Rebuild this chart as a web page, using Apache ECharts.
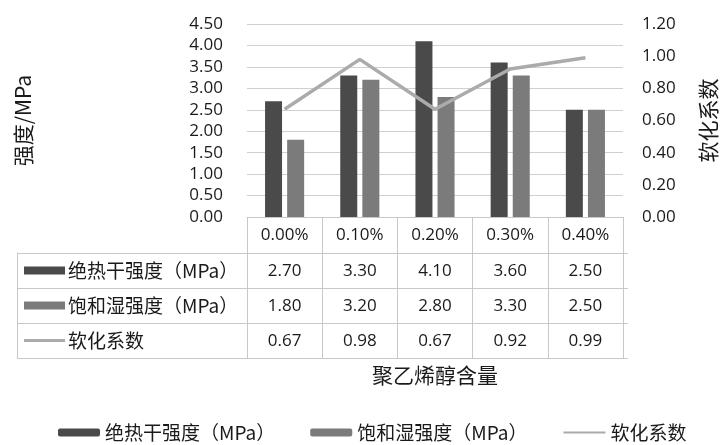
<!DOCTYPE html>
<html>
<head>
<meta charset="utf-8">
<script src="https://cdn.jsdelivr.net/npm/echarts@6/dist/echarts.min.js"></script>
<style>
  html, body { margin: 0; padding: 0; background: #fff; }
  #chart { width: 727px; height: 445px; }
</style>
</head>
<body>
<div id="chart"></div>
<script>
// PVA content levels and measured results
const categories = ['0.00%', '0.10%', '0.20%', '0.30%', '0.40%'];
const dryStrength = [2.70, 3.30, 4.10, 3.60, 2.50];
const wetStrength = [1.80, 3.20, 2.80, 3.30, 2.50];
const softening = [0.67, 0.98, 0.67, 0.92, 0.99];
const seriesNames = ['绝热干强度（MPa）', '饱和湿强度（MPa）', '软化系数'];
const tableRows = [dryStrength, wetStrength, softening];

const COLORS = ['#4a4a4a', '#7b7b7b', '#ababab'];
const LINE_GRAY = '#c8c8c8';
const TEXT = '#1a1a1a';
const FONT = '"Open Sans", "Noto Sans CJK SC", sans-serif';
const CJK = '"Noto Sans CJK SC", "Open Sans", sans-serif';

const chart = echarts.init(document.getElementById('chart'), null, { renderer: 'canvas' });

// one extra x axis per data-table row, sharing the chart's category scale
const rowOffsets = [36, 71, 106];
const rowAxes = tableRows.map((row, r) => ({
  type: 'category',
  gridIndex: 0,
  position: 'bottom',
  offset: rowOffsets[r],
  data: categories,
  axisLine: { show: false },
  axisTick: { show: false },
  axisLabel: {
    interval: 0,
    margin: 10,
    color: TEXT,
    fontFamily: FONT,
    fontSize: 17,
    formatter: (v, i) => row[i].toFixed(2)
  }
}));

const option = {
  backgroundColor: '#ffffff',
  animation: false,
  textStyle: { fontFamily: FONT },
  grid: [
    { left: 247, right: 99, top: 24, bottom: 228 },
    // data table body: series-name column plus value cells
    { left: 17, right: 99, top: 253, height: 105 }
  ],
  legend: {
    data: [
      { name: seriesNames[0] },
      { name: seriesNames[1] },
      // plain line key for the softening series, no point marker
      { name: seriesNames[2], itemStyle: { opacity: 0 } }
    ],
    left: 53,
    top: 418,
    itemWidth: 42,
    itemHeight: 8,
    itemGap: 35,
    textStyle: { fontFamily: CJK, fontSize: 19, color: TEXT }
  },
  xAxis: [
    {
      type: 'category',
      gridIndex: 0,
      data: categories,
      position: 'bottom',
      name: '聚乙烯醇含量',
      nameLocation: 'middle',
      nameGap: 148,
      nameTextStyle: { fontFamily: CJK, fontSize: 21, color: TEXT },
      axisLine: { show: true, lineStyle: { color: LINE_GRAY, width: 1 } },
      axisTick: { show: true, interval: 0, length: 141, lineStyle: { color: LINE_GRAY, width: 1 } },
      axisLabel: { interval: 0, margin: 10, color: TEXT, fontFamily: FONT, fontSize: 17 }
    },
    ...rowAxes,
    { type: 'value', gridIndex: 1, show: false, min: 0, max: 1 }
  ],
  yAxis: [
    {
      type: 'value',
      gridIndex: 0,
      min: 0,
      max: 4.5,
      interval: 0.5,
      name: '强度/MPa',
      nameLocation: 'middle',
      nameGap: 213,
      nameRotate: 90,
      nameTextStyle: { fontFamily: CJK, fontSize: 21, color: TEXT },
      axisLine: { show: false },
      axisTick: { show: false },
      axisLabel: { margin: 24, color: TEXT, fontFamily: FONT, fontSize: 17, formatter: v => v.toFixed(2) },
      splitLine: { show: true, lineStyle: { color: '#d0d0d0', width: 1 } }
    },
    {
      type: 'value',
      gridIndex: 0,
      position: 'right',
      min: 0,
      max: 1.2,
      interval: 0.2,
      name: '软化系数',
      nameLocation: 'middle',
      nameGap: 75,
      nameRotate: 90,
      nameTextStyle: { fontFamily: CJK, fontSize: 21, color: TEXT },
      axisLine: { show: false },
      axisTick: { show: false },
      axisLabel: { margin: 19, color: TEXT, fontFamily: FONT, fontSize: 17, formatter: v => v.toFixed(2) },
      splitLine: { show: false }
    },
    {
      type: 'category',
      gridIndex: 1,
      inverse: true,
      data: seriesNames,
      axisLine: { show: true, lineStyle: { color: LINE_GRAY, width: 1 } },
      axisTick: { show: false },
      splitLine: { show: true, interval: 0, lineStyle: { color: LINE_GRAY, width: 1 } },
      axisLabel: {
        inside: true,
        margin: 7,
        interval: 0,
        formatter: (v, i) => `{s${i}|}{t|${v}}`,
        rich: {
          s0: { width: 41, height: 8, backgroundColor: COLORS[0] },
          s1: { width: 41, height: 8, backgroundColor: COLORS[1] },
          s2: { width: 41, height: 3, backgroundColor: COLORS[2] },
          t: { fontFamily: CJK, fontSize: 19, color: TEXT, padding: [0, 0, 0, 3] }
        }
      }
    }
  ],
  series: [
    {
      name: seriesNames[0],
      type: 'bar',
      xAxisIndex: 0,
      yAxisIndex: 0,
      data: dryStrength,
      barWidth: 17,
      barGap: '30%',
      itemStyle: { color: COLORS[0] }
    },
    {
      name: seriesNames[1],
      type: 'bar',
      xAxisIndex: 0,
      yAxisIndex: 0,
      data: wetStrength,
      barWidth: 17,
      barGap: '30%',
      itemStyle: { color: COLORS[1] }
    },
    {
      name: seriesNames[2],
      type: 'line',
      xAxisIndex: 0,
      yAxisIndex: 1,
      data: softening,
      symbol: 'none',
      lineStyle: { color: COLORS[2], width: 3.5 },
      itemStyle: { color: COLORS[2] },
      z: 5
    }
  ]
};

chart.setOption(option);
</script>
</body>
</html>
